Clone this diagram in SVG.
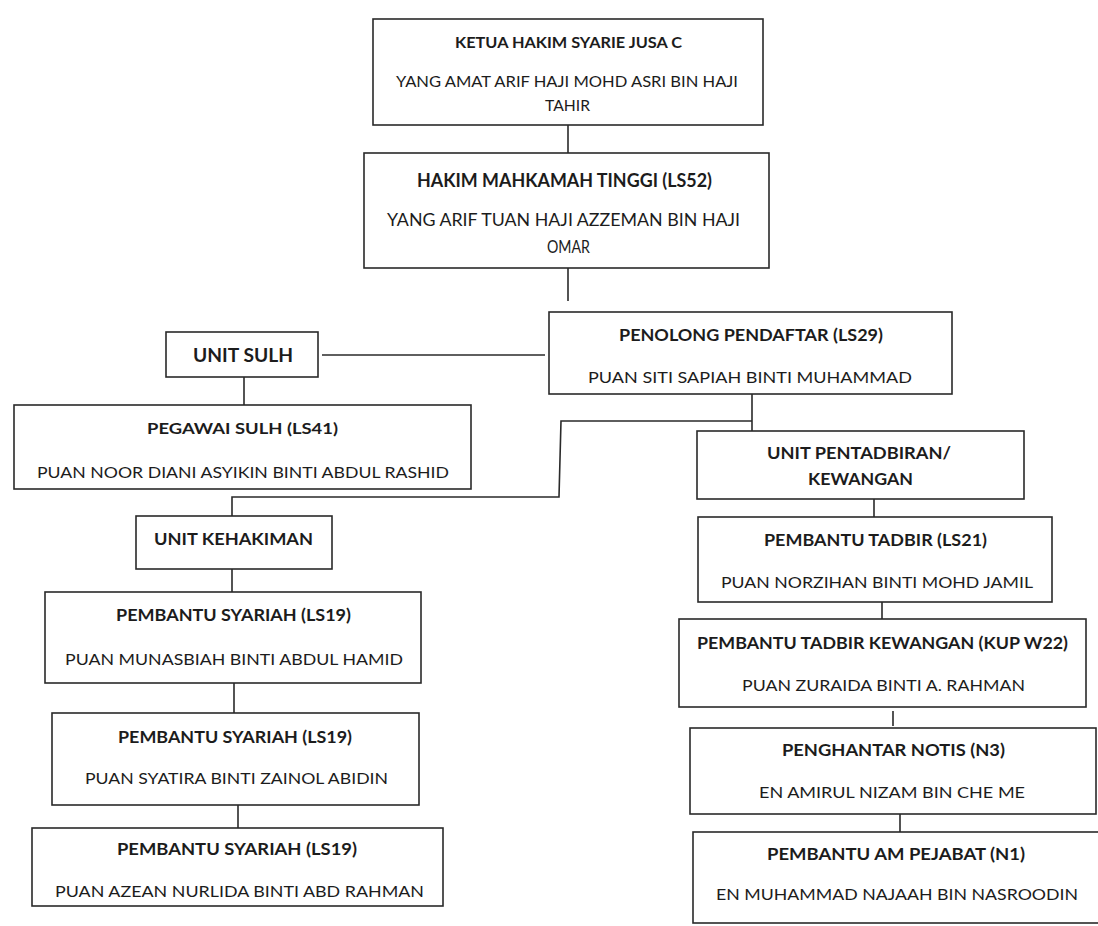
<svg xmlns="http://www.w3.org/2000/svg" width="1098" height="926" viewBox="0 0 1098 926">
<style>
.box{fill:#fff;stroke:#2a2a2a;stroke-width:1.6}
.t{font-family:Lato,"Open Sans","Liberation Sans",sans-serif;font-weight:700;font-size:16px;fill:#1c1c1c;text-anchor:middle}
.n{font-family:Lato,"Open Sans","Liberation Sans",sans-serif;font-weight:400;font-size:16px;fill:#1c1c1c;text-anchor:middle}
.c{fill:none;stroke:#2a2a2a;stroke-width:1.6}
</style>
<rect width="1098" height="926" fill="#fff"/>
<g id="connectors">
<path class="c" d="M568 125V153"/>
<path class="c" d="M568 268V301"/>
<path class="c" d="M322 355H545"/>
<path class="c" d="M244 377V405"/>
<path class="c" d="M752 394V431"/>
<path class="c" d="M752 421H561L559 497H232V516"/>
<path class="c" d="M232 569V592"/>
<path class="c" d="M234 683V713"/>
<path class="c" d="M238 805V828"/>
<path class="c" d="M874 499V517"/>
<path class="c" d="M882 602V619"/>
<path class="c" d="M893 711V726"/>
<path class="c" d="M900 814V832"/>
</g>
<g id="ketua">
<rect class="box" x="373" y="19" width="390" height="106"/>
<text class="t" x="568.5" y="48" textLength="227" lengthAdjust="spacingAndGlyphs" font-size="15">KETUA HAKIM SYARIE JUSA C</text>
<text class="n" x="567" y="87" textLength="342" lengthAdjust="spacingAndGlyphs">YANG AMAT ARIF HAJI MOHD ASRI BIN HAJI</text>
<text class="n" x="567.5" y="111" textLength="45" lengthAdjust="spacingAndGlyphs">TAHIR</text>
</g>
<g id="hakim">
<rect class="box" x="364" y="153" width="405" height="115"/>
<text class="t" x="564.5" y="187" textLength="295" lengthAdjust="spacingAndGlyphs" style="font-size:18px">HAKIM MAHKAMAH TINGGI (LS52)</text>
<text class="n" x="563.5" y="226" textLength="353" lengthAdjust="spacingAndGlyphs" style="font-size:17px">YANG ARIF TUAN HAJI AZZEMAN BIN HAJI</text>
<text class="n" x="568.5" y="253" textLength="43" lengthAdjust="spacingAndGlyphs" style="font-size:17px">OMAR</text>
</g>
<g id="unit-sulh">
<rect class="box" x="166" y="332" width="152" height="45"/>
<text class="t" x="243" y="362" textLength="100" lengthAdjust="spacingAndGlyphs" style="font-size:18px">UNIT SULH</text>
</g>
<g id="penolong">
<rect class="box" x="549" y="312" width="403" height="82"/>
<text class="t" x="751" y="341" textLength="264" lengthAdjust="spacingAndGlyphs" style="font-size:17px">PENOLONG PENDAFTAR (LS29)</text>
<text class="n" x="750" y="383" textLength="324" lengthAdjust="spacingAndGlyphs">PUAN SITI SAPIAH BINTI MUHAMMAD</text>
</g>
<g id="pegawai-sulh">
<rect class="box" x="14" y="405" width="457" height="84"/>
<text class="t" x="242.5" y="434" textLength="191" lengthAdjust="spacingAndGlyphs">PEGAWAI SULH (LS41)</text>
<text class="n" x="243" y="478" textLength="412" lengthAdjust="spacingAndGlyphs">PUAN NOOR DIANI ASYIKIN BINTI ABDUL RASHID</text>
</g>
<g id="unit-pentadbiran">
<rect class="box" x="697" y="431" width="327" height="68"/>
<text class="t" x="859" y="459" textLength="184" lengthAdjust="spacingAndGlyphs" style="font-size:17px">UNIT PENTADBIRAN/</text>
<text class="t" x="860.5" y="485" textLength="105" lengthAdjust="spacingAndGlyphs" style="font-size:17px">KEWANGAN</text>
</g>
<g id="unit-kehakiman">
<rect class="box" x="136" y="516" width="196" height="53"/>
<text class="t" x="233.5" y="545" textLength="159" lengthAdjust="spacingAndGlyphs" style="font-size:17px">UNIT KEHAKIMAN</text>
</g>
<g id="pembantu-tadbir">
<rect class="box" x="698" y="517" width="354" height="85"/>
<text class="t" x="875.5" y="546" textLength="223" lengthAdjust="spacingAndGlyphs" style="font-size:17px">PEMBANTU TADBIR (LS21)</text>
<text class="n" x="877" y="588" textLength="312" lengthAdjust="spacingAndGlyphs">PUAN NORZIHAN BINTI MOHD JAMIL</text>
</g>
<g id="pembantu-syariah-1">
<rect class="box" x="45" y="592" width="376" height="91"/>
<text class="t" x="233.5" y="621" textLength="235" lengthAdjust="spacingAndGlyphs" style="font-size:17px">PEMBANTU SYARIAH (LS19)</text>
<text class="n" x="234" y="665" textLength="338" lengthAdjust="spacingAndGlyphs">PUAN MUNASBIAH BINTI ABDUL HAMID</text>
</g>
<g id="pembantu-tadbir-kewangan">
<rect class="box" x="679" y="619" width="407" height="88"/>
<text class="t" x="882.5" y="649" textLength="371" lengthAdjust="spacingAndGlyphs" style="font-size:17px">PEMBANTU TADBIR KEWANGAN (KUP W22)</text>
<text class="n" x="883.5" y="691" textLength="283" lengthAdjust="spacingAndGlyphs">PUAN ZURAIDA BINTI A. RAHMAN</text>
</g>
<g id="pembantu-syariah-2">
<rect class="box" x="52" y="713" width="367" height="92"/>
<text class="t" x="235" y="743" textLength="234" lengthAdjust="spacingAndGlyphs" style="font-size:17px">PEMBANTU SYARIAH (LS19)</text>
<text class="n" x="236.5" y="784" textLength="303" lengthAdjust="spacingAndGlyphs">PUAN SYATIRA BINTI ZAINOL ABIDIN</text>
</g>
<g id="penghantar-notis">
<rect class="box" x="690" y="728" width="406" height="86"/>
<text class="t" x="893.5" y="756" textLength="223" lengthAdjust="spacingAndGlyphs" style="font-size:17px">PENGHANTAR NOTIS (N3)</text>
<text class="n" x="892" y="798" textLength="266" lengthAdjust="spacingAndGlyphs">EN AMIRUL NIZAM BIN CHE ME</text>
</g>
<g id="pembantu-syariah-3">
<rect class="box" x="32" y="828" width="411" height="78"/>
<text class="t" x="237" y="855" textLength="240" lengthAdjust="spacingAndGlyphs" style="font-size:17px">PEMBANTU SYARIAH (LS19)</text>
<text class="n" x="239.5" y="897" textLength="369" lengthAdjust="spacingAndGlyphs">PUAN AZEAN NURLIDA BINTI ABD RAHMAN</text>
</g>
<g id="pembantu-am-pejabat">
<rect class="box" x="693" y="832" width="407" height="91"/>
<text class="t" x="896" y="860" textLength="258" lengthAdjust="spacingAndGlyphs" style="font-size:17px">PEMBANTU AM PEJABAT (N1)</text>
<text class="n" x="897" y="900" textLength="362" lengthAdjust="spacingAndGlyphs">EN MUHAMMAD NAJAAH BIN NASROODIN</text>
</g>
</svg>
